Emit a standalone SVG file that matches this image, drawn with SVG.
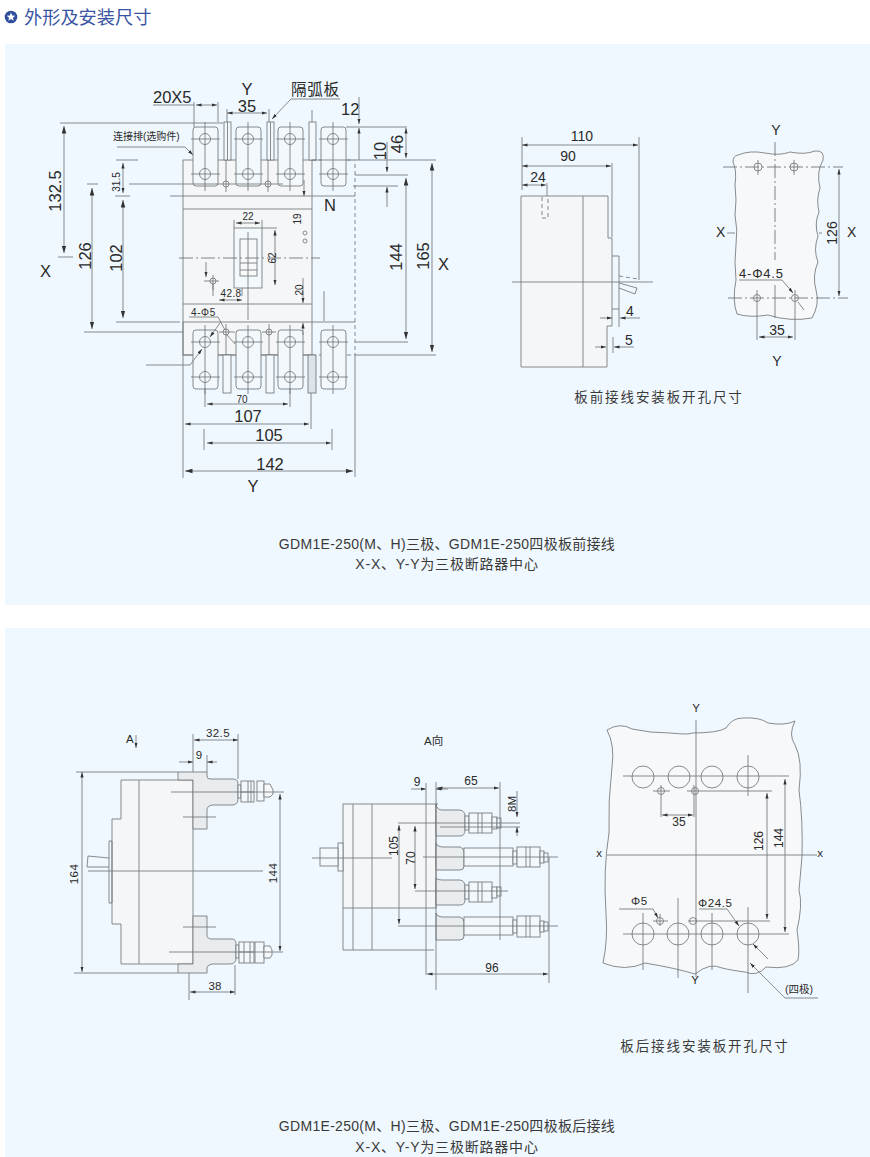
<svg xmlns="http://www.w3.org/2000/svg" width="870" height="1157" viewBox="0 0 870 1157">
<style>
.l{fill:none;stroke:#72777a;stroke-width:.85}
.k{fill:none;stroke:#6a6f72;stroke-width:.85;stroke-dasharray:14 3 2 3}
.ds{fill:none;stroke:#72777a;stroke-width:.85;stroke-dasharray:4 3}
.o{fill:#f7f8f9;stroke:#72777a;stroke-width:.85}
.g{fill:#e9ecee;stroke:#72777a;stroke-width:.85}
.w{fill:#f4f6f7;stroke:#72777a;stroke-width:.85}
.t{fill:#f2f8fc;stroke:#72777a;stroke-width:.85}
.b{fill:none;stroke:#72777a;stroke-width:.85;marker-start:url(#a);marker-end:url(#a)}
.e{fill:none;stroke:#72777a;stroke-width:.85;marker-end:url(#a)}
.B{fill:none;stroke:#72777a;stroke-width:.85;marker-start:url(#A);marker-end:url(#A)}
.E{fill:none;stroke:#72777a;stroke-width:.85;marker-end:url(#A)}
text{font-family:"Liberation Sans",Arial,"Noto Sans CJK SC",sans-serif;fill:#2a2a2a}
.f16{font-size:16.5px}.f14{font-size:14px}.f12{font-size:12px}.f11{font-size:11.5px}.f10{font-size:10px}
.m{text-anchor:middle}
.cap{font-size:14px;fill:#3a3a3a;text-anchor:middle;letter-spacing:.3px}
.cap2{font-size:14px;fill:#3a3a3a;text-anchor:middle;letter-spacing:.8px}
.sub{font-size:13.5px;fill:#3a3a3a;text-anchor:middle;letter-spacing:1.9px}
</style>
<defs>
<marker id="a" markerUnits="userSpaceOnUse" markerWidth="6" markerHeight="4" refX="5.5" refY="2" orient="auto-start-reverse"><path d="M0 .4L5.5 2L0 3.6z" fill="#333"/></marker>
<marker id="A" markerUnits="userSpaceOnUse" markerWidth="8" markerHeight="5" refX="7.5" refY="2.5" orient="auto-start-reverse"><path d="M0 .2L7.5 2.5L0 4.8z" fill="#333"/></marker>
<g id="term"><rect class="t" x="-12" y="-12" width="25" height="59" rx="3"/><circle class="l" cy="0" r="5.5"/><circle class="l" cy="35" r="5.5"/><path class="l" d="M-14 0H15M-14 35H15M0-17V52"/></g>
<g id="bh"><circle class="o" r="11"/></g>
</defs>
<rect width="870" height="1157" fill="#fff"/>
<rect x="5" y="44" width="865" height="561" fill="#f0f8ff"/>
<rect x="5" y="628" width="865" height="529" fill="#f0f8ff"/>

<g id="header">
<circle cx="11" cy="17" r="6.3" fill="#2f4f9c"/>
<polygon points="11,12.6 12.2,15.6 15.3,15.7 12.9,17.7 13.7,20.8 11,19 8.3,20.8 9.1,17.7 6.700,15.7 9.8,15.6" fill="#fff"/>
<text x="24" y="23.500" font-size="18.200" style="fill:#3a55a3">外形及安装尺寸</text>
</g>

<g id="front-view">
<rect class="w" x="183" y="160" width="129" height="195"/>
<path class="l" d="M170 196H355M183 209H312M183 304H312M183 322H355M183 355H312"/>
<path class="ds" d="M312 160H355M312 355H355"/>
<path class="ds" d="M355 164V355"/>
<rect class="t" x="234" y="228" width="28" height="60"/>
<rect class="o" x="240" y="239" width="17" height="37"/>
<path class="l" d="M240 263H257M240 270H257M262 228H277"/>
<path class="k" d="M179 258H320"/>
<path class="l" d="M248 232V320"/>
<circle class="l" cx="305" cy="233" r="2"/><circle class="l" cx="305" cy="241" r="2"/>
<g id="barriers">
<rect class="t" x="224" y="122" width="7" height="38"/><rect class="t" x="267" y="122" width="7" height="38"/><rect class="t" x="309" y="122" width="7" height="38"/>
<rect class="t" x="223" y="355" width="8" height="38"/><rect class="t" x="266" y="355" width="8" height="38"/><rect x="308" y="355" width="8" height="38" fill="#dbe4e8" stroke="#72777a" stroke-width=".85"/>
<path class="l" d="M227.500 122V160M270.500 122V160M312 110V122"/>
</g>
<g id="terminals">
<use href="#term" x="205" y="139"/><use href="#term" x="248" y="139"/><use href="#term" x="290" y="139"/><use href="#term" x="333" y="139"/>
<use href="#term" x="205" y="342"/><use href="#term" x="248" y="342"/><use href="#term" x="290" y="342"/><use href="#term" x="333" y="342"/>
</g>
<g id="small-holes">
<circle class="l" cx="226" cy="184" r="3"/><circle class="l" cx="268" cy="184" r="3"/><circle class="l" cx="226" cy="332" r="3"/><circle class="l" cx="269" cy="332" r="3"/><circle class="l" cx="213" cy="281" r="3"/>
<path class="l" d="M226 160V192M268 160V192M129 184H283M226 324V355M269 324V355M219 332H235M262 332H276M204 281H219M213 275V290"/>
</g>
<g id="front-dims">
<path class="l" d="M60 123H223M58 257H73M87 184H98M116 160H138M115 196H130M116 322H180M84 332H183M194 102V127M218 102V122M227 109V122M269 109V122M346 127H407M312 160H436M355 175H408M353 186H398M355 342H408M355 355H436M183 322V478M204 429V450M332 429V450M311 393V429M355 355V477M205 388V407M290 388V407M234 220V228M262 220V228M324 291V321M213 284V296M242 288V296"/>
<path class="b" d="M196 105H217"/><path class="b" d="M227 113H267"/><path class="B" d="M64 126V253"/><path class="B" d="M92 188V329"/><path class="B" d="M123 200V318"/><path class="b" d="M123 163V193"/><path class="b" d="M236 223H260"/><path class="b" d="M275 230V285"/><path class="b" d="M219 300H242"/><path class="b" d="M207 404H288"/><path class="b" d="M185 424H309"/><path class="b" d="M207 443H331"/><path class="B" d="M185 471H353"/><path class="b" d="M406 128V158"/><path class="B" d="M406 178V339"/><path class="B" d="M432 163V352"/>
<path class="e" d="M359 97V124"/><path class="e" d="M359 160V128"/><path class="e" d="M387 142V172"/><path class="e" d="M387 207V187"/><path class="e" d="M304 180V196"/><path class="e" d="M303 278V303"/><path class="e" d="M303 335V323"/><path class="e" d="M206 262V277"/>
<path class="l" d="M153 105H194M291 99H340M189 317H218M117 147H185M218 317L225 330M227 335L235 344M146 365H190"/>
<path class="e" d="M185 147L193 155"/><path class="e" d="M291 99L272 119"/><path class="e" d="M220 323L210 337"/><path class="e" d="M190 365L202 349"/>
</g>
<text class="f16" x="153" y="103">20X5</text>
<text class="f16 m" x="247" y="95">Y</text>
<text class="f16 m" x="247" y="112">35</text>
<text x="291" y="95" font-size="15.500" letter-spacing=".8">隔弧板</text>
<text class="f16" x="341" y="115">12</text>
<text x="113" y="140" font-size="10">连接排(选购件)</text>
<text class="f16 m" transform="rotate(-90 61 191)" x="61" y="191">132.5</text>
<text class="f16 m" transform="rotate(-90 91 256)" x="91" y="256">126</text>
<text class="f16 m" transform="rotate(-90 122 258)" x="122" y="258">102</text>
<text class="f10 m" transform="rotate(-90 120 182)" x="120" y="182">31.5</text>
<text class="f16" x="40" y="277">X</text>
<text class="f16" x="438" y="270">X</text>
<text class="f16 m" transform="rotate(-90 403 144)" x="403" y="144">46</text>
<text class="f16 m" transform="rotate(-90 386 151)" x="386" y="151">10</text>
<text class="f16 m" transform="rotate(-90 402 257)" x="402" y="257">144</text>
<text class="f16 m" transform="rotate(-90 429 256)" x="429" y="256">165</text>
<text class="f16" x="324" y="211">N</text>
<text class="f10 m" x="248" y="220">22</text>
<text class="f10 m" transform="rotate(-90 276 258)" x="276" y="258">62</text>
<text class="f10 m" transform="rotate(-90 301 219)" x="301" y="219">19</text>
<text class="f10 m" transform="rotate(-90 303 290)" x="303" y="290">20</text>
<text class="f10 m" x="231" y="297" letter-spacing=".4">42.8</text>
<text class="f10" x="191" y="316" letter-spacing=".6">4-Φ5</text>
<text class="f10 m" x="242" y="403">70</text>
<text class="f16 m" x="248" y="422">107</text>
<text class="f16 m" x="269" y="441">105</text>
<text class="f16 m" x="270" y="470">142</text>
<text class="f16 m" x="253" y="492">Y</text>
</g>

<g id="side-view">
<path class="w" d="M521 196H608V238H612V326H607V367H521Z"/>
<path class="l" d="M583 196V367M612 256H619V309H612M619 283L637 288L635 294L619 288"/>
<path class="ds" d="M542 197V218H548V197M619 276L638 279"/>
<path class="l" d="M512 282H653M522 137V190M639 137V280M612 163V237M547 183V196M619 309V327M613 337V353"/>
<path class="b" d="M522 145H638"/><path class="b" d="M522 166H611"/><path class="b" d="M522 185H546"/>
<path class="e" d="M600 318H612"/><path class="e" d="M640 318H620"/><path class="e" d="M595 347H606"/><path class="e" d="M634 347H614"/>
<text class="f14 m" x="582" y="141">110</text>
<text class="f14 m" x="568" y="161">90</text>
<text class="f14 m" x="538" y="182">24</text>
<text class="f14 m" x="630" y="316">4</text>
<text class="f14 m" x="629" y="345">5</text>
<text class="sub" x="659" y="402">板前接线安装板开孔尺寸</text>
</g>

<g id="cutout-front">
<path class="o" d="M738 155Q750 150 765 153Q780 156 790 152Q805 155 815 151Q825 150 823 160Q816 172 820 188Q816 200 819 212Q814 224 818 236Q813 250 818 262Q812 276 816 290Q820 304 812 318Q790 322 768 315Q750 318 737 314Q732 300 736 280Q734 262 736 245Q738 230 735 215Q737 200 735 185Q737 170 733 162Q733 156 738 155Z"/>
<path class="k" d="M723 167H843M728 298H848M775 142V260"/>
<path class="l" d="M775 285V318M758 160V175M794 160V175M757 290V340M795 290V340M727 233H735M819 233H822"/>
<circle class="l" cx="758" cy="167" r="4"/><circle class="l" cx="794" cy="167" r="4"/><circle class="l" cx="757" cy="298" r="3.500"/><circle class="l" cx="795" cy="298" r="3.500"/>
<path class="b" d="M839 169V296"/><path class="b" d="M759 337H793"/>
<path class="l" d="M739 280H782M798 302L804 310"/>
<path class="e" d="M782 280L793 293"/>
<text class="f14 m" x="776" y="135">Y</text>
<text class="f14 m" x="777" y="366">Y</text>
<text class="f14" x="716" y="237">X</text>
<text class="f14" x="847" y="237">X</text>
<text class="f14 m" transform="rotate(-90 837 233)" x="837" y="233">126</text>
<text class="f14 m" x="777" y="335">35</text>
<text x="739" y="278" font-size="13" letter-spacing=".8">4-Φ4.5</text>
</g>

<text class="cap" x="447" y="549">GDM1E-250(M、H)三极、GDM1E-250四极板前接线</text>
<text class="cap2" x="447" y="569">X-X、Y-Y为三极断路器中心</text>

<g id="rear-side-view">
<path class="w" d="M121 780H193V964H121V924H112V819H121Z"/>
<path class="l" d="M139 780V964M109 841H112V903H109ZM109 858L88 856L87 867L109 867"/>
<path class="g" d="M178 772H207V776Q207 779 210 779H233Q238 779 238 784V799Q238 805 232 805H212Q207 806 207 810V829H193V780H178Z"/>
<path class="g" d="M193 916H207V935Q207 939 212 939H232Q236 939 236 944V958Q236 964 230 964H212Q207 965 207 968V973H178V964H193Z"/>
<g id="nut-upper"><rect class="t" x="238" y="785" width="3" height="13"/><rect class="t" x="241" y="781" width="13" height="21"/><path class="l" d="M248 781V802M251 781V802M241 792H254"/><rect class="t" x="257" y="781" width="7" height="20"/><path class="o" d="M264 784H270L273 790V794L270 797H264Z"/></g>
<g id="nut-lower"><rect class="t" x="236" y="945" width="3" height="13"/><rect class="t" x="239" y="942" width="15" height="21"/><path class="l" d="M244 942V963M250 942V963M239 952H254"/><rect class="t" x="255" y="942" width="9" height="21"/><path class="o" d="M264 946H270L272 950V955L270 958H264Z"/></g>
<path class="l" d="M88 871H263M171 792H284M183 817H216M183 927H216M169 952H283M193 734V772M238 734V779M207 755V772M76 772H178M74 973H178M189 973V1000M235 965V995"/>
<path class="b" d="M194 740H238"/><path class="b" d="M82 772V972"/><path class="b" d="M280 794V951"/><path class="b" d="M190 992H235"/>
<path class="e" d="M179 762H193"/><path class="e" d="M217 762H207"/><path class="e" d="M136 735V748"/>
<text class="f11" x="126" y="743">A</text>
<text class="f11 m" x="218" y="737" letter-spacing=".4">32.5</text>
<text class="f11 m" x="199" y="759">9</text>
<text class="f11 m" transform="rotate(-90 78 874)" x="78" y="874" letter-spacing=".4">164</text>
<text class="f11 m" transform="rotate(-90 277 873)" x="277" y="873" letter-spacing=".4">144</text>
<text class="f11 m" x="215" y="990">38</text>
</g>

<g id="a-view">
<rect class="w" x="343" y="804" width="93" height="104"/>
<path class="l" d="M353 804V950M372 804V950M343 908V950H434M436 804H438"/>
<rect class="t" x="338" y="843" width="5" height="28"/>
<rect class="t" x="320" y="848" width="18" height="18"/>
<path class="g" d="M436 804Q437 810 442 810H460Q465 811 465 816V830Q465 836 460 836H436Z"/>
<path class="g" d="M436 843Q437 847 442 847H460Q464 848 464 852V866Q464 870 460 870H436Z"/>
<path class="g" d="M436 878Q437 880 442 880H460Q465 881 465 886V900Q465 905 460 905H436Z"/>
<path class="g" d="M436 913Q437 917 442 917H460Q464 918 464 922V936Q464 940 460 940H436Z"/>
<g id="bars"><rect class="t" x="464" y="848" width="49" height="18"/><rect class="t" x="464" y="917" width="49" height="18"/></g>
<g id="nuts">
<rect class="t" x="465" y="816" width="4" height="14"/><rect class="t" x="469" y="813" width="23" height="20"/><path class="l" d="M478 813V833M482 813V833"/><rect class="t" x="492" y="817" width="5" height="12"/><rect class="t" x="497" y="818" width="4" height="10"/>
<rect class="t" x="513" y="851" width="4" height="13"/><rect class="t" x="517" y="847" width="23" height="20"/><path class="l" d="M526 847V867M530 847V867"/><rect class="t" x="540" y="851" width="4" height="12"/><rect class="t" x="544" y="853" width="4" height="9"/>
<rect class="t" x="465" y="885" width="4" height="14"/><rect class="t" x="469" y="882" width="23" height="20"/><path class="l" d="M478 882V902M482 882V902"/><rect class="t" x="492" y="887" width="5" height="11"/><rect class="t" x="497" y="887" width="4" height="9"/>
<rect class="t" x="513" y="920" width="4" height="13"/><rect class="t" x="517" y="916" width="23" height="21"/><path class="l" d="M526 916V937M530 916V937"/><rect class="t" x="540" y="921" width="4" height="11"/><rect class="t" x="544" y="922" width="4" height="9"/>
</g>
<path class="l" d="M312 858H392M426 783V975M436 782V990M398 823H520M440 827H520M423 857H558M415 891H508M398 926H558M500 782V940M549 857V983"/>
<path class="b" d="M399 825V924"/><path class="b" d="M415 826V889"/><path class="b" d="M437 788H499"/><path class="b" d="M427 974H548"/>
<path class="e" d="M411 789H426"/><path class="e" d="M448 789H436"/><path class="e" d="M517 791V817"/><path class="e" d="M517 836V827"/>
<text class="f11" x="424" y="745">A向</text>
<text class="f12 m" x="471" y="785">65</text>
<text class="f12 m" x="417" y="786">9</text>
<text class="f12 m" x="492" y="972">96</text>
<text class="f12 m" transform="rotate(-90 398 846)" x="398" y="846">105</text>
<text class="f12 m" transform="rotate(-90 415 858)" x="415" y="858">70</text>
<text class="f11 m" transform="rotate(-90 516 804)" x="516" y="804">8M</text>
</g>

<g id="cutout-rear">
<path class="o" d="M607 730Q620 722 632 729Q650 733 670 733Q690 735 692 733Q718 733 726 728Q732 718 743 718Q760 717 768 723Q785 726 795 721Q788 735 795 745Q803 760 799 790Q803 820 802 856Q800 880 799 890Q803 905 797 930Q800 950 798 960Q790 970 766 967Q757 977 745 972Q730 970 722 968Q710 962 695 974Q675 968 645 963Q625 972 603 963Q608 940 606 913Q603 870 609 833Q608 800 612 767Q615 745 607 730Z"/>
<use href="#bh" x="643" y="777"/><use href="#bh" x="679" y="777"/><use href="#bh" x="712" y="777"/><use href="#bh" x="748" y="777"/>
<use href="#bh" x="643" y="934"/><use href="#bh" x="678" y="934"/><use href="#bh" x="712" y="934"/><use href="#bh" x="748" y="934"/>
<circle class="l" cx="661" cy="791" r="3.500"/><circle class="l" cx="695" cy="791" r="3.500"/><circle class="l" cx="660" cy="921" r="3.500"/><circle class="l" cx="693" cy="921" r="3.500"/>
<path class="l" d="M623 776H789M623 934H789M696 720V977M607 855H817M653 791H670M687 791H772M661 785V817M694 785V817M653 921H668M688 921H770M643 913V970M678 898V978M712 913V970M748 907V993M748 755V796M660 914V926"/>
<path class="b" d="M662 815H693"/><path class="b" d="M767 793V919"/><path class="b" d="M785 779V932"/>
<path class="l" d="M619 909H653M699 909H727M785 998H818"/>
<path class="e" d="M653 909L658 918"/><path class="e" d="M727 909L739 926"/><path class="e" d="M785 998L750 963"/><path class="e" d="M768 959L753 944"/>
<text class="f11 m" x="696" y="712">Y</text>
<text class="f11 m" x="695" y="984">Y</text>
<text class="f11 m" x="599" y="857">x</text>
<text class="f11 m" x="820" y="857">x</text>
<text class="f12 m" x="679" y="826">35</text>
<text class="f12 m" transform="rotate(-90 763 841)" x="763" y="841">126</text>
<text class="f12 m" transform="rotate(-90 783 838)" x="783" y="838">144</text>
<text class="f11" x="631" y="905" letter-spacing=".6">Φ5</text>
<text class="f11" x="698" y="907" letter-spacing=".6">Φ24.5</text>
<text x="785" y="993" font-size="10.500">(四极)</text>
</g>
<text class="sub" x="705" y="1051">板后接线安装板开孔尺寸</text>
<text class="cap" x="447" y="1131">GDM1E-250(M、H)三极、GDM1E-250四极板后接线</text>
<text class="cap2" x="447" y="1152">X-X、Y-Y为三极断路器中心</text>
</svg>
